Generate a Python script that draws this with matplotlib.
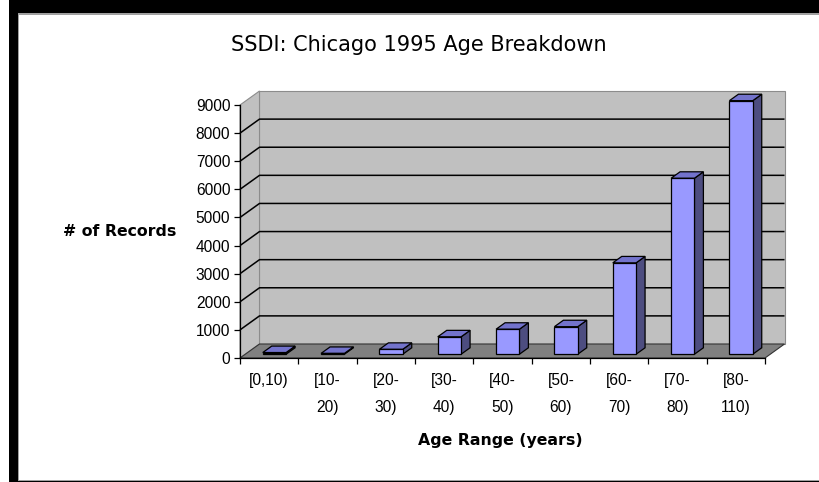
import matplotlib
matplotlib.use("Agg")
import matplotlib.pyplot as plt
from matplotlib.patches import Polygon, Rectangle

# Data: SSDI death records for Chicago, 1995, grouped by age at death
categories = ["[0,10)", "[10-\n20)", "[20-\n30)", "[30-\n40)", "[40-\n50)",
              "[50-\n60)", "[60-\n70)", "[70-\n80)", "[80-\n110)"]
records = [60, 30, 175, 620, 890, 980, 3250, 6260, 9020]
y_ticks = [0, 1000, 2000, 3000, 4000, 5000, 6000, 7000, 8000, 9000]

title_text = "SSDI: Chicago 1995 Age Breakdown"
x_title = "Age Range (years)"
y_title = "# of Records"

W, H = 820, 482
fig = plt.figure(figsize=(W / 100, H / 100), dpi=100)
fig.patch.set_facecolor("white")

# Window-style frame around the chart area
def fig_rect(x, y, w, h, color):
    fig.add_artist(Rectangle((x / W, 1 - (y + h) / H), w / W, h / H,
                             transform=fig.transFigure, facecolor=color,
                             edgecolor="none", zorder=0))

fig_rect(9, 0, W - 9, 13, "black")
fig_rect(9, 0, 9, H, "black")
fig_rect(18, 13, W - 18, 1.5, "#a0a0a0")
fig_rect(18, 13, 1.5, H - 13, "#a0a0a0")
fig_rect(18, H - 2.5, W - 18, 1.2, "#a0a0a0")
fig_rect(9, H - 1.3, W - 9, 1.3, "black")

# Front plane of the 3-D plot: x in category units, y in record counts
left_px, right_px, zero_px, top_px = 240, 765, 358, 105
ax = fig.add_axes([left_px / W, 1 - zero_px / H,
                   (right_px - left_px) / W, (zero_px - top_px) / H])
n = len(categories)
ymax = y_ticks[-1]
ax.set_xlim(0, n)
ax.set_ylim(0, ymax)
ax.patch.set_visible(False)

# Depth offset of the back wall, in data units
px_x = (right_px - left_px) / n
px_y = (zero_px - top_px) / ymax
DX = 19.5 / px_x
DY = 14.0 / px_y

wall_c = "#c0c0c0"
floor_c = "#808080"
edge_c = "#8c8c8c"

# back wall
ax.add_patch(Polygon([(DX, DY), (n + DX, DY), (n + DX, ymax + DY), (DX, ymax + DY)],
                     closed=True, facecolor=wall_c, edgecolor=edge_c, lw=0.8,
                     clip_on=False, zorder=1))
# side wall
ax.add_patch(Polygon([(0, 0), (DX, DY), (DX, ymax + DY), (0, ymax)],
                     closed=True, facecolor=wall_c, edgecolor=edge_c, lw=0.8,
                     clip_on=False, zorder=1))
# floor
ax.add_patch(Polygon([(0, 0), (n, 0), (n + DX, DY), (DX, DY)],
                     closed=True, facecolor=floor_c, edgecolor="#333333", lw=0.8,
                     clip_on=False, zorder=2))

# gridlines on side and back walls (the top edge stays a plain wall border)
for v in y_ticks[1:-1]:
    ax.plot([0, DX, n + DX], [v, v + DY, v + DY], color="black", lw=1.1,
            clip_on=False, zorder=3, solid_capstyle="butt")

# 3-D columns
front_c, side_c, top_c = "#9999ff", "#4d4d80", "#7373cc"
f0, f1 = 0.27, 0.73
for i, v in enumerate(records):
    x0, x1 = i + 0.3, i + 0.7
    a0x, a0y = f0 * DX, f0 * DY
    a1x, a1y = f1 * DX, f1 * DY
    side = [(x1 + a0x, a0y), (x1 + a1x, a1y), (x1 + a1x, v + a1y), (x1 + a0x, v + a0y)]
    top = [(x0 + a0x, v + a0y), (x1 + a0x, v + a0y), (x1 + a1x, v + a1y), (x0 + a1x, v + a1y)]
    front = [(x0 + a0x, a0y), (x1 + a0x, a0y), (x1 + a0x, v + a0y), (x0 + a0x, v + a0y)]
    for pts, c in ((side, side_c), (top, top_c), (front, front_c)):
        ax.add_patch(Polygon(pts, closed=True, facecolor=c, edgecolor="black",
                             lw=0.9, joinstyle="miter", clip_on=False, zorder=4))

# Axes lines, ticks and labels
for s in ("top", "right"):
    ax.spines[s].set_visible(False)
for s in ("left", "bottom"):
    ax.spines[s].set_color("black")
    ax.spines[s].set_linewidth(0.9)
    ax.spines[s].set_zorder(5)

tick_font = dict(family=["Liberation Sans", "DejaVu Sans"], size=11.2)
ax.set_yticks(y_ticks)
ax.set_yticklabels([str(t) for t in y_ticks], **tick_font)
ax.tick_params(axis="y", direction="out", length=4, width=0.9, pad=3, color="black")

ax.set_xticks(range(n + 1))
ax.set_xticklabels([])
ax.set_xticks([i + 0.5 for i in range(n)], minor=True)
ax.set_xticklabels(categories, minor=True, **tick_font)
ax.tick_params(axis="x", which="major", direction="out", length=4, width=0.9,
               color="black")
ax.tick_params(axis="x", which="minor", length=0, pad=11)
for lab in ax.get_xticklabels(minor=True):
    lab.set_linespacing(2.0)
    lab.set_multialignment("center")

label_font = dict(family=["DejaVu Sans"], size=11.3, weight="bold")
ax.set_ylabel(y_title, rotation=0, ha="right", va="center", **label_font)
ax.yaxis.set_label_coords((176 - left_px) / (right_px - left_px),
                          (zero_px - 231) / (zero_px - top_px))
ax.set_xlabel(x_title, ha="center", va="center", **label_font)
ax.xaxis.set_label_coords((500 - left_px) / (right_px - left_px),
                          (zero_px - 440) / (zero_px - top_px))

fig.text(419 / W, 1 - 45 / H, title_text, ha="center", va="center",
         family=["DejaVu Sans"], size=15, color="black")

fig.savefig("out.png", dpi=100)
